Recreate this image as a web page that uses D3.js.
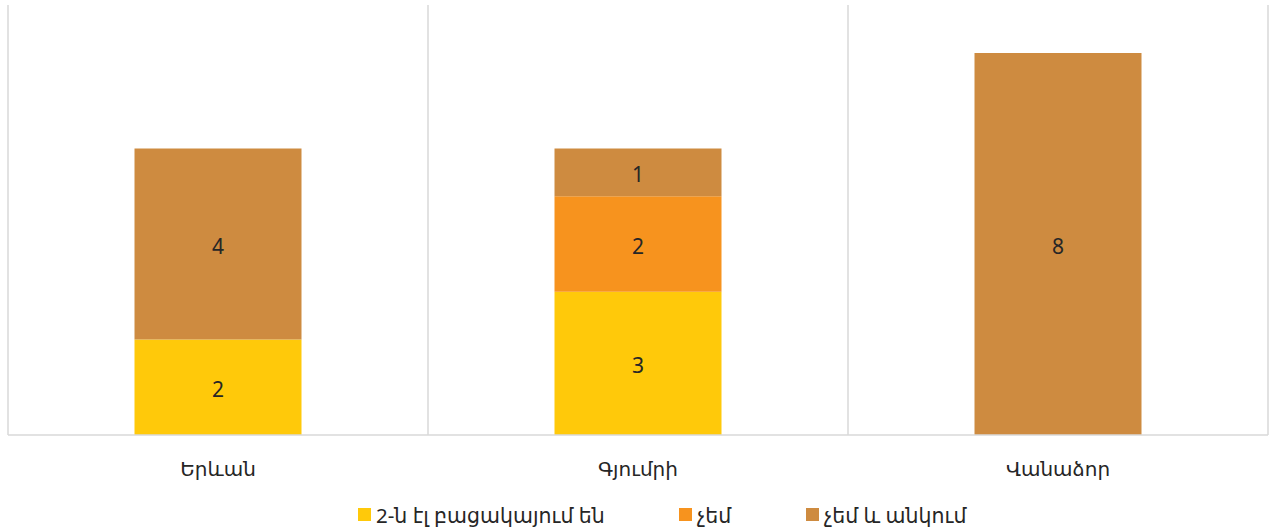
<!DOCTYPE html>
<html>
<head>
<meta charset="utf-8">
<script src="https://cdn.jsdelivr.net/npm/d3@7"></script>
<style>
  body { margin: 0; background: #fff; }
  text { font-family: "Noto Sans", "DejaVu Sans", sans-serif; fill: #262626; }
</style>
</head>
<body>
<svg id="chart" width="1269" height="530"></svg>
<script>
var categories = ['Երևան', 'Գյումրի', 'Վանաձոր'];
var seriesNames = ['2-ն էլ բացակայում են', 'չեմ', 'չեմ և անկում'];
var seriesColors = ['#FFC90A', '#F7931E', '#CE8B40'];
var bothAbsent = [2, 3, 0];
var notMe = [0, 2, 0];
var notMeFalling = [4, 1, 8];

var rows = categories.map(function (c, i) {
  return { cat: c, s0: bothAbsent[i], s1: notMe[i], s2: notMeFalling[i] };
});

var svg = d3.select('#chart');
var margin = { left: 8, right: 1, top: 5, bottom: 95 };
var W = 1269, H = 530;

var x = d3.scaleBand()
  .domain(categories)
  .range([margin.left, W - margin.right])
  .paddingInner(0)
  .paddingOuter(0);

var y = d3.scaleLinear()
  .domain([0, 8])
  .range([435, 53]);

var stack = d3.stack().keys(['s0', 's1', 's2']);
var layers = stack(rows);

// category separators
var grid = svg.append('g');
var edges = categories.map(function (c) { return x(c); }).concat([x(categories[categories.length - 1]) + x.bandwidth()]);
grid.selectAll('line')
  .data(edges)
  .enter()
  .append('line')
  .attr('x1', function (d) { return d; })
  .attr('x2', function (d) { return d; })
  .attr('y1', margin.top)
  .attr('y2', y(0))
  .attr('stroke', '#d9d9d9')
  .attr('stroke-width', 1.5);

var barW = 167;
var layerG = svg.selectAll('g.layer')
  .data(layers)
  .enter()
  .append('g')
  .attr('class', 'layer')
  .attr('fill', function (d, i) { return seriesColors[i]; });

layerG.selectAll('rect')
  .data(function (d) { return d; })
  .enter()
  .append('rect')
  .attr('x', function (d) { return x(d.data.cat) + (x.bandwidth() - barW) / 2; })
  .attr('width', barW)
  .attr('y', function (d) { return y(d[1]); })
  .attr('height', function (d) { return y(d[0]) - y(d[1]); });

layerG.selectAll('text')
  .data(function (d) { return d.filter(function (p) { return p[1] - p[0] > 0; }); })
  .enter()
  .append('text')
  .attr('x', function (d) { return x(d.data.cat) + x.bandwidth() / 2; })
  .attr('y', function (d) { return (y(d[0]) + y(d[1])) / 2 + 2; })
  .attr('text-anchor', 'middle')
  .attr('dominant-baseline', 'central')
  .attr('font-size', 21)
  .text(function (d) { return d[1] - d[0]; });

// baseline
svg.append('line')
  .attr('x1', margin.left)
  .attr('x2', W - margin.right)
  .attr('y1', y(0))
  .attr('y2', y(0))
  .attr('stroke', '#d9d9d9')
  .attr('stroke-width', 1.5);

// category labels
svg.selectAll('text.cat')
  .data(categories)
  .enter()
  .append('text')
  .attr('class', 'cat')
  .attr('x', function (d) { return x(d) + x.bandwidth() / 2; })
  .attr('y', 468)
  .attr('text-anchor', 'middle')
  .attr('dominant-baseline', 'central')
  .attr('font-size', 20)
  .text(function (d) { return d; });

// legend
var legendX = [358, 679, 806];
var lg = svg.selectAll('g.legend')
  .data(seriesNames)
  .enter()
  .append('g')
  .attr('class', 'legend')
  .attr('transform', function (d, i) { return 'translate(' + legendX[i] + ',508)'; });
lg.append('rect')
  .attr('width', 13)
  .attr('height', 13)
  .attr('fill', function (d, i) { return seriesColors[i]; });
lg.append('text')
  .attr('x', 18)
  .attr('y', 7)
  .attr('dominant-baseline', 'central')
  .attr('font-size', 20.5)
  .text(function (d) { return d; });
</script>
</body>
</html>
